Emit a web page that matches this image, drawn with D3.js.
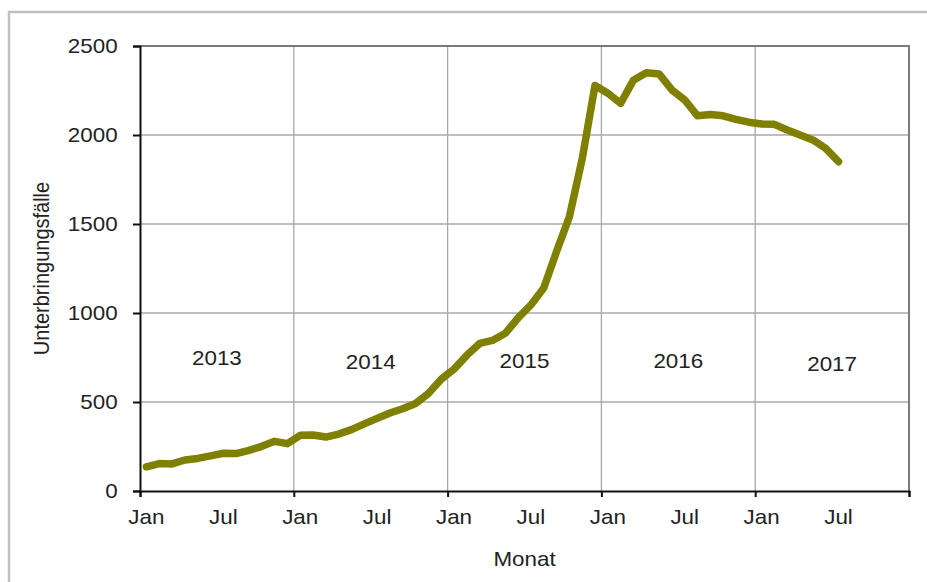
<!DOCTYPE html>
<html>
<head>
<meta charset="utf-8">
<script src="https://cdn.jsdelivr.net/npm/d3@7"></script>
<style>
  html, body { margin: 0; padding: 0; background: #fff; }
  svg { display: block; }
  text { font-family: "Liberation Sans", Arial, sans-serif; fill: #222; }
</style>
</head>
<body>
<svg id="chart" width="927" height="582"></svg>
<script>
// ---- data ----
const years = ["2013", "2014", "2015", "2016", "2017"];
const monthTickLabels = ["Jan", "Jul"];
const values2013 = [136, 154, 152, 174, 183, 197, 212, 210, 228, 251, 279, 266];
const values2014 = [313, 315, 303, 320, 345, 377, 408, 438, 462, 492, 548, 628];
const values2015 = [685, 762, 829, 846, 886, 972, 1045, 1140, 1345, 1540, 1865, 2278];
const values2016 = [2235, 2178, 2308, 2350, 2343, 2253, 2197, 2108, 2115, 2108, 2088, 2072];
const values2017 = [2062, 2060, 2028, 2000, 1972, 1925, 1850];
const yTicks = [0, 500, 1000, 1500, 2000, 2500];
const yTitle = "Unterbringungsfälle";
const xTitle = "Monat";

const series = [].concat(values2013, values2014, values2015, values2016, values2017)
  .map((v, i) => ({ m: i, v: v }));
const nMonths = years.length * 12;

// ---- layout ----
const svg = d3.select("#chart");
const L = 140, R = 909, T = 46, B = 491;
const SX = 1.12; // horizontal stretch of the original text

const x = d3.scaleLinear().domain([0, nMonths]).range([L, R]);
const y = d3.scaleLinear().domain([0, 2500]).range([B, T]);

// outer frame
svg.append("rect").attr("x", 9).attr("y", 12).attr("width", 940).attr("height", 600)
  .attr("fill", "#fff").attr("stroke", "#c0c0c0").attr("stroke-width", 2.5);

// gridlines
const grid = svg.append("g");
grid.selectAll("line.h").data(yTicks.filter(d => d > 0)).join("line")
  .attr("x1", L).attr("x2", R).attr("y1", d => y(d)).attr("y2", d => y(d))
  .attr("stroke", "#a8a8a8").attr("stroke-width", 1.3);
const yearBounds = d3.range(12, nMonths, 12);
grid.selectAll("line.v").data(yearBounds).join("line")
  .attr("x1", d => x(d)).attr("x2", d => x(d)).attr("y1", T).attr("y2", B)
  .attr("stroke", "#a8a8a8").attr("stroke-width", 1.3);

// plot frame top/right
svg.append("path").attr("d", `M${L},${T}H${R}V${B}`)
  .attr("fill", "none").attr("stroke", "#7a7a7a").attr("stroke-width", 2);

// y axis
const yAxis = d3.axisLeft(y).tickValues(yTicks).tickSize(7).tickPadding(13).tickFormat(d3.format("d"));
const gy = svg.append("g").attr("transform", `translate(${L},0)`).call(yAxis);
gy.select(".domain").attr("stroke", "#111").attr("stroke-width", 2);
gy.selectAll(".tick line").attr("stroke", "#111").attr("stroke-width", 2);
gy.selectAll(".tick text").attr("font-size", 20).attr("fill", "#222")
  .attr("font-family", "Liberation Sans, Arial, sans-serif")
  .attr("transform", `scale(${SX},1)`);

// x axis (ticks at year boundaries)
const xAxis = d3.axisBottom(x).tickValues(d3.range(0, nMonths + 1, 12)).tickSize(6).tickFormat("");
const gx = svg.append("g").attr("transform", `translate(0,${B})`).call(xAxis);
gx.select(".domain").attr("stroke", "#111").attr("stroke-width", 2);
gx.selectAll(".tick line").attr("stroke", "#111").attr("stroke-width", 2);

// x labels (category centres)
const labelMonths = d3.range(0, nMonths, 6);
svg.append("g").selectAll("text").data(labelMonths).join("text")
  .attr("transform", d => `translate(${x(d + 0.5)},524) scale(${SX},1)`)
  .attr("text-anchor", "middle").attr("font-size", 20)
  .text(d => monthTickLabels[(d / 6) % 2]);

// year labels
const yearDy = [365, 369, 368, 368, 370.5];
svg.append("g").selectAll("text").data(years).join("text")
  .attr("transform", (d, i) => `translate(${x(i * 12 + 6)},${yearDy[i]}) scale(${SX},1)`)
  .attr("text-anchor", "middle").attr("font-size", 20)
  .text(d => d);

// line
const line = d3.line().x(d => x(d.m + 0.5)).y(d => y(d.v));
svg.append("path").datum(series).attr("d", line)
  .attr("fill", "none").attr("stroke", "#808000").attr("stroke-width", 7.5)
  .attr("stroke-linejoin", "round").attr("stroke-linecap", "round");

// axis titles
svg.append("text")
  .attr("transform", `translate(${(L + R) / 2},566) scale(${SX},1)`)
  .attr("text-anchor", "middle").attr("font-size", 20).text(xTitle);
svg.append("text")
  .attr("transform", `translate(49,${(T + B) / 2}) rotate(-90) scale(1,${SX})`)
  .attr("text-anchor", "middle").attr("font-size", 20).text(yTitle);
</script>
</body>
</html>
